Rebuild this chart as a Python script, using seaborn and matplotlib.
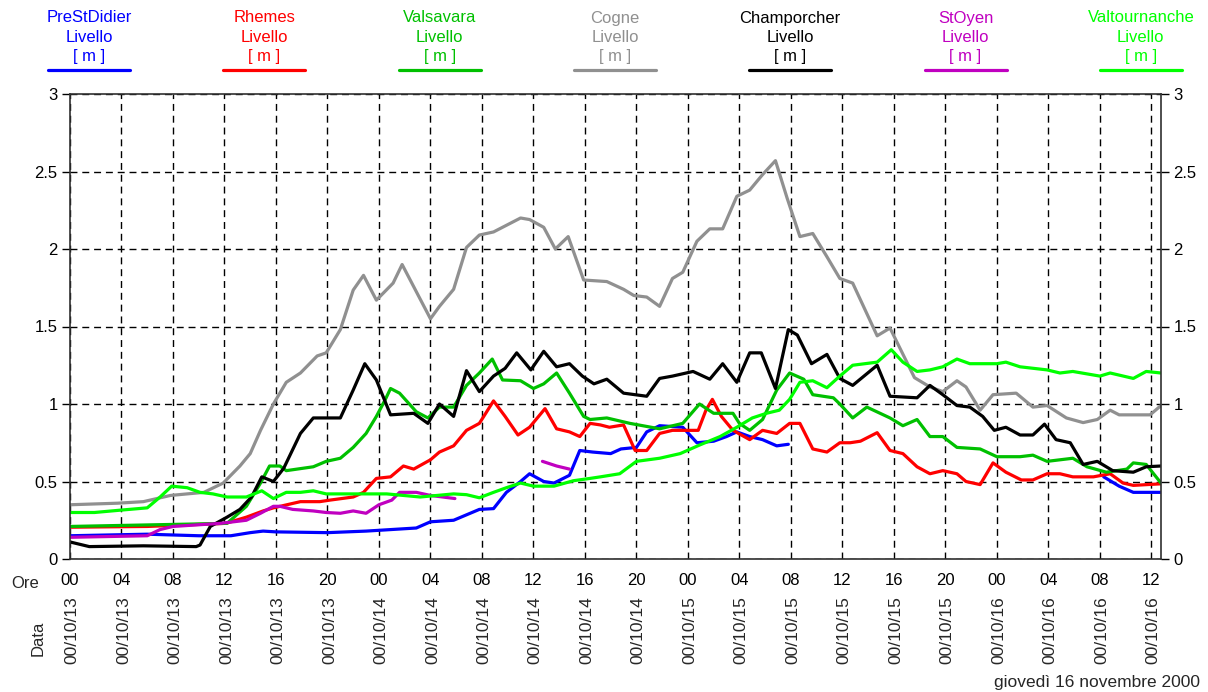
import numpy as np
import pandas as pd
import matplotlib
matplotlib.use("Agg")
import matplotlib.pyplot as plt
import matplotlib.transforms as mtransforms
import seaborn as sns

# ---------------- data ----------------
stations = ["PreStDidier", "Rhemes", "Valsavara", "Cogne", "Champorcher", "StOyen", "Valtournanche"]
colors = ["#0000ff", "#ff0000", "#00c000", "#909090", "#000000", "#c000c0", "#00ff00"]

hour_ticks = [0, 4, 8, 12, 16, 20, 24, 28, 32, 36, 40, 44, 48, 52, 56, 60, 64, 68, 72, 76, 80, 84]
hour_labels = ["00", "04", "08", "12", "16", "20", "00", "04", "08", "12", "16", "20",
               "00", "04", "08", "12", "16", "20", "00", "04", "08", "12"]
date_labels = ["00/10/13"] * 6 + ["00/10/14"] * 6 + ["00/10/15"] * 6 + ["00/10/16"] * 4
y_ticks = [0, 0.5, 1, 1.5, 2, 2.5, 3]
y_labels = ["0", "0.5", "1", "1.5", "2", "2.5", "3"]

# PreStDidier (two segments, gap in data)
ore_prestdidier_a = [0, 6, 10, 12.5, 14, 15, 16, 20, 23, 26.9, 28, 29.8, 31.8, 32.9, 33.9, 35, 35.7, 36.8,
                     37.6, 38.8, 39.6, 40.6, 42, 42.8, 44, 44.8, 45.8, 47.6, 48.7, 50, 51, 51.8, 52.8,
                     53.8, 54.9, 55.8]
liv_prestdidier_a = [0.15, 0.16, 0.15, 0.15, 0.17, 0.18, 0.175, 0.17, 0.18, 0.20, 0.24, 0.25, 0.32, 0.325,
                     0.43, 0.50, 0.55, 0.50, 0.49, 0.54, 0.70, 0.69, 0.68, 0.71, 0.72, 0.82, 0.86, 0.85,
                     0.75, 0.76, 0.79, 0.82, 0.79, 0.77, 0.73, 0.74]
ore_prestdidier_b = [80.3, 81.5, 82.6, 84.75]
liv_prestdidier_b = [0.53, 0.47, 0.43, 0.43]

ore_rhemes = [0, 6, 12.1, 13.7, 15, 15.8, 17.9, 19.4, 20.2, 22, 22.8, 23.8, 24.9, 25.9, 26.7, 28, 28.7,
              29.8, 30.8, 31.8, 32.9, 33.8, 34.8, 35.7, 36.9, 37.8, 38.8, 39.6, 40.4, 41.2, 41.9, 43,
              43.9, 44.8, 45.8, 46.8, 48.8, 49.4, 49.9, 50.6, 51.5, 52.8, 53.8, 54.9, 55.9, 56.7, 57.7,
              58.8, 59.8, 60.6, 61.4, 62.7, 63.7, 64.7, 65.8, 66.8, 67.8, 68.9, 69.6, 70.7, 71.7, 72.7,
              73.9, 74.8, 75.9, 76.9, 77.9, 79.5, 80.8, 81.8, 82.6, 84.75]
liv_rhemes = [0.205, 0.21, 0.23, 0.27, 0.31, 0.33, 0.37, 0.37, 0.38, 0.40, 0.43, 0.52, 0.53, 0.60, 0.58,
              0.64, 0.69, 0.73, 0.83, 0.875, 1.02, 0.92, 0.80, 0.85, 0.97, 0.84, 0.82, 0.79, 0.875, 0.865,
              0.85, 0.865, 0.70, 0.70, 0.81, 0.83, 0.83, 0.96, 1.03, 0.92, 0.83, 0.77, 0.83, 0.81, 0.875,
              0.875, 0.71, 0.69, 0.75, 0.75, 0.76, 0.815, 0.70, 0.68, 0.595, 0.55, 0.57, 0.55, 0.50, 0.48,
              0.62, 0.56, 0.51, 0.51, 0.55, 0.55, 0.53, 0.53, 0.55, 0.49, 0.475, 0.485]

ore_valsavara = [0, 12.2, 13.7, 14.8, 15.5, 16.3, 16.8, 18.9, 19.9, 21, 22, 23, 23.8, 24.5, 24.9, 25.6,
                 26.9, 27.8, 28.7, 29.8, 30.8, 31.8, 32.8, 33.6, 35, 36, 36.8, 37.8, 38.8, 39.9, 40.4,
                 41.7, 43.5, 45.8, 47.6, 48.9, 50, 51.5, 52, 52.8, 53.8, 54.9, 55.9, 57, 57.7, 59.3, 59.8,
                 60.8, 61.9, 63.7, 64.7, 65.8, 66.8, 67.8, 68.9, 70.7, 72, 73.8, 74.8, 75.9, 77.9, 79,
                 80.5, 82.1, 82.6, 83.6, 84.75]
liv_valsavara = [0.21, 0.23, 0.34, 0.49, 0.60, 0.60, 0.57, 0.595, 0.63, 0.65, 0.72, 0.81, 0.92, 1.03,
                 1.10, 1.07, 0.95, 0.91, 0.98, 0.98, 1.12, 1.20, 1.29, 1.155, 1.15, 1.10, 1.13, 1.20, 1.07,
                 0.92, 0.90, 0.91, 0.875, 0.84, 0.875, 1.0, 0.94, 0.94, 0.875, 0.83, 0.90, 1.09, 1.20,
                 1.16, 1.06, 1.04, 1.0, 0.91, 0.98, 0.91, 0.86, 0.90, 0.79, 0.79, 0.72, 0.71, 0.66, 0.66,
                 0.67, 0.63, 0.65, 0.595, 0.56, 0.58, 0.62, 0.61, 0.49]

ore_cogne = [0, 3.7, 5.7, 7.8, 10.4, 11.9, 13.2, 14, 14.8, 15.8, 16.8, 17.9, 19.2, 19.9, 21, 22, 22.8,
             23.8, 25.1, 25.8, 28, 28.7, 29.8, 30.8, 31.8, 32.9, 35, 35.7, 36.8, 37.7, 38.7, 39.9, 41.7,
             43, 43.8, 44.8, 45.8, 46.8, 47.6, 48.7, 49.7, 50.7, 51.8, 52.8, 53.8, 54.8, 55.7, 56.7,
             57.7, 58.8, 59.8, 60.8, 62.7, 63.7, 65.6, 66.8, 67.8, 68.9, 69.6, 70.7, 71.7, 73.5, 74.8,
             75.9, 77.4, 78.7, 79.8, 80.8, 81.5, 83.9, 84.75]
liv_cogne = [0.35, 0.36, 0.37, 0.41, 0.43, 0.49, 0.60, 0.68, 0.83, 1.0, 1.14, 1.20, 1.31, 1.33, 1.48,
             1.735, 1.83, 1.67, 1.78, 1.90, 1.55, 1.63, 1.74, 2.01, 2.09, 2.11, 2.20, 2.19, 2.14, 2.0,
             2.08, 1.80, 1.79, 1.74, 1.70, 1.69, 1.63, 1.81, 1.85, 2.05, 2.13, 2.13, 2.34, 2.38, 2.48,
             2.57, 2.33, 2.08, 2.10, 1.95, 1.81, 1.78, 1.44, 1.49, 1.17, 1.11, 1.08, 1.15, 1.11, 0.96,
             1.06, 1.07, 0.98, 0.99, 0.91, 0.88, 0.90, 0.96, 0.93, 0.93, 0.99]

ore_champorcher = [0, 1.5, 5.7, 9.8, 10.1, 10.9, 12.2, 13.2, 14.1, 14.9, 15.8, 16.6, 17.9, 18.9, 21, 22,
                   22.9, 23.8, 24.9, 26.7, 27.8, 28.7, 29.8, 30.8, 31.8, 32.9, 33.8, 34.7, 35.8, 36.8,
                   37.8, 38.8, 39.8, 40.7, 41.7, 43, 44.8, 45.8, 46.8, 48.4, 49.7, 50.7, 51.8, 52.8, 53.7,
                   54.8, 55.8, 56.5, 57.6, 58.8, 59.8, 60.8, 62.7, 63.7, 65.8, 66.8, 67.8, 68.9, 69.9,
                   70.9, 71.8, 72.7, 73.8, 74.8, 75.7, 76.6, 77.7, 78.7, 79.8, 81, 82.6, 83.6, 84.75]
liv_champorcher = [0.11, 0.08, 0.085, 0.08, 0.09, 0.21, 0.27, 0.32, 0.40, 0.53, 0.50, 0.585, 0.81, 0.91,
                   0.91, 1.09, 1.26, 1.155, 0.93, 0.94, 0.875, 1.0, 0.92, 1.215, 1.08, 1.18, 1.23, 1.33,
                   1.22, 1.34, 1.24, 1.26, 1.18, 1.13, 1.16, 1.07, 1.05, 1.165, 1.18, 1.21, 1.16, 1.26,
                   1.14, 1.33, 1.33, 1.10, 1.48, 1.445, 1.26, 1.32, 1.165, 1.12, 1.25, 1.05, 1.04, 1.12,
                   1.06, 0.99, 0.98, 0.92, 0.83, 0.85, 0.80, 0.80, 0.87, 0.77, 0.75, 0.61, 0.63, 0.57,
                   0.56, 0.595, 0.60]

ore_stoyen_a = [0, 6, 7, 8, 11.7, 13.7, 14.8, 15.8, 16.3, 17.3, 18.9, 19.9, 21, 22, 23, 24, 25, 25.6,
                26.9, 28, 29.9]
liv_stoyen_a = [0.14, 0.15, 0.19, 0.21, 0.23, 0.25, 0.295, 0.34, 0.34, 0.32, 0.31, 0.30, 0.295, 0.31,
                0.295, 0.35, 0.38, 0.43, 0.43, 0.41, 0.39]
ore_stoyen_b = [36.7, 37.8, 38.8]
liv_stoyen_b = [0.63, 0.60, 0.58]

ore_valtournanche = [0, 1.9, 3.9, 6, 7, 7.9, 9.1, 10.1, 11.1, 12.2, 13.7, 14.9, 15.8, 16.8, 17.9, 18.9,
                     19.9, 22, 24.6, 27.2, 29.8, 30.8, 31.8, 32.9, 33.9, 35, 36, 37.6, 39.1, 40.4, 41.2,
                     42.7, 44, 45.8, 47.4, 48.9, 50.5, 51.8, 53, 54.1, 55.1, 55.9, 56.7, 57.7, 58.8, 59.8,
                     60.8, 62.7, 63.8, 64.7, 65.8, 66.8, 67.8, 68.9, 69.9, 72, 72.7, 73.8, 75.9, 76.9,
                     77.9, 80, 80.8, 82.6, 83.6, 84.75]
liv_valtournanche = [0.30, 0.30, 0.315, 0.33, 0.40, 0.47, 0.46, 0.43, 0.42, 0.40, 0.40, 0.44, 0.39, 0.43,
                     0.43, 0.44, 0.42, 0.42, 0.42, 0.40, 0.42, 0.415, 0.395, 0.43, 0.46, 0.49, 0.47, 0.47,
                     0.505, 0.52, 0.53, 0.55, 0.63, 0.65, 0.68, 0.735, 0.79, 0.85, 0.91, 0.94, 0.96, 1.03,
                     1.14, 1.15, 1.105, 1.18, 1.25, 1.27, 1.35, 1.27, 1.21, 1.22, 1.24, 1.29, 1.26, 1.26,
                     1.27, 1.24, 1.22, 1.20, 1.21, 1.18, 1.20, 1.165, 1.21, 1.20]

segments = [
    ("PreStDidier", "a", ore_prestdidier_a, liv_prestdidier_a),
    ("PreStDidier", "b", ore_prestdidier_b, liv_prestdidier_b),
    ("Rhemes", "a", ore_rhemes, liv_rhemes),
    ("Valsavara", "a", ore_valsavara, liv_valsavara),
    ("Cogne", "a", ore_cogne, liv_cogne),
    ("Champorcher", "a", ore_champorcher, liv_champorcher),
    ("StOyen", "a", ore_stoyen_a, liv_stoyen_a),
    ("StOyen", "b", ore_stoyen_b, liv_stoyen_b),
    ("Valtournanche", "a", ore_valtournanche, liv_valtournanche),
]

df = pd.concat([pd.DataFrame({"stazione": s, "segmento": s + seg, "ore": h, "livello": v})
                for s, seg, h, v in segments], ignore_index=True)

# ---------------- figure ----------------
sns.set_style("white")
plt.rcParams["font.family"] = ["Liberation Sans", "DejaVu Sans"]
FS = 12

W, H = 1208, 692
fig = plt.figure(figsize=(W / 100, H / 100), dpi=100)
L, R, T, B = 70, 1161, 94, 559
ax = fig.add_axes([L / W, 1 - B / H, (R - L) / W, (B - T) / H])

sns.lineplot(data=df, x="ore", y="livello", hue="stazione", units="segmento", estimator=None,
             hue_order=stations, palette=dict(zip(stations, colors)), linewidth=2.3,
             legend=False, sort=False, ax=ax)

ax.set_xlim(0, 84.75)
ax.set_ylim(0, 3)
ax.set_xticks(hour_ticks)
ax.set_xticklabels(hour_labels, fontsize=FS)
ax.set_yticks(y_ticks)
ax.set_yticklabels(y_labels, fontsize=FS)
ax.set_xlabel("")
ax.set_ylabel("")
ax.set_axisbelow(True)
ax.grid(True, color="black", linestyle=(0, (5, 3.5)), linewidth=1.0)
ax.tick_params(axis="x", direction="out", length=6, width=1, pad=4, colors="black")
ax.tick_params(axis="y", direction="out", length=6, width=1, pad=3, left=True, right=True,
               labelleft=True, labelright=True, colors="black")
for sp in ax.spines.values():
    sp.set_visible(True)
    sp.set_color("#303030")
    sp.set_linewidth(1.2)

# date labels (rotated) under hour labels
trans = mtransforms.blended_transform_factory(ax.transData, ax.transAxes)
for h, d in zip(hour_ticks, date_labels):
    ax.text(h + 0.15, -0.08, d, transform=trans, rotation=90, ha="center", va="top", fontsize=12.5)

fig.text(25 / W, 1 - 583 / H, "Ore", ha="center", va="center", fontsize=FS)
fig.text(38 / W, 1 - 638 / H, "Data", ha="center", va="center", rotation=90, fontsize=FS)
fig.text(1200 / W, 1 - 682 / H, "giovedì 16 novembre 2000", ha="right", va="center", fontsize=12.5)

# header legend
for i, (s, c) in enumerate(zip(stations, colors)):
    cx = 89 + 175.3 * i
    for j, line in enumerate([s, "Livello", "[ m ]"]):
        fig.text(cx / W, 1 - (18 + 19 * j) / H, line, ha="center", va="center", color=c, fontsize=FS)
    fig.add_artist(plt.Line2D([(cx - 41) / W, (cx + 41) / W], [1 - 70 / H, 1 - 70 / H],
                              color=c, linewidth=2.3, transform=fig.transFigure))

fig.savefig("out.png", dpi=100)
